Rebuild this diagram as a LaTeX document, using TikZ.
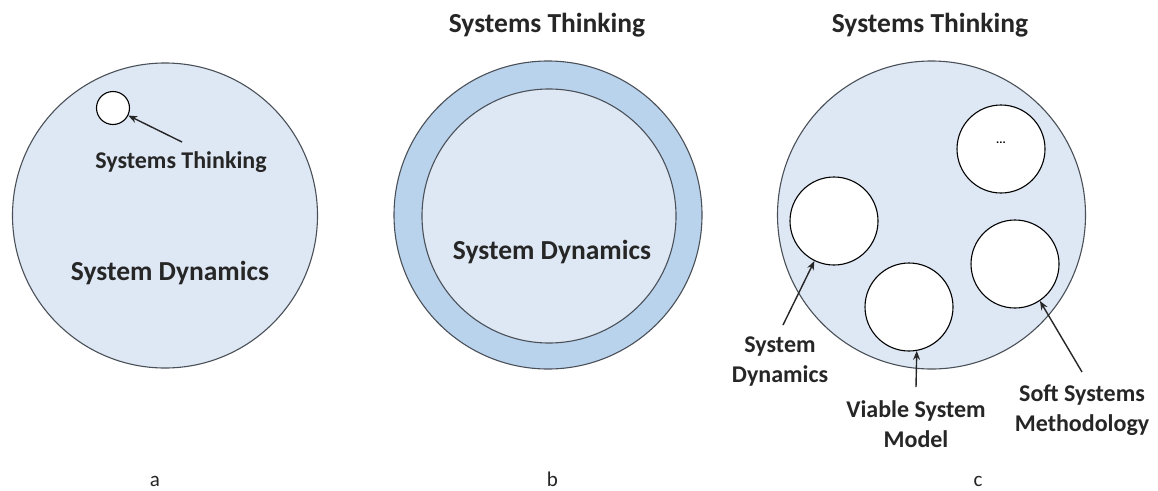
\documentclass[tikz,border=0pt]{standalone}
\usepackage{fontspec}
\setmainfont{Carlito}
\usetikzlibrary{arrows.meta}
\definecolor{fillA}{HTML}{DEE8F4}
\definecolor{ringB}{HTML}{BAD3ED}
\definecolor{edgeC}{HTML}{4A5058}
\begin{document}
\begin{tikzpicture}[x=1pt,y=-1pt,
  bigcirc/.style={circle, draw=edgeC, line width=1.1pt, fill=fillA, inner sep=0pt, minimum size=#1},
  subcirc/.style={circle, draw=black, line width=1.1pt, fill=white, inner sep=0pt, minimum size=#1},
  bigtext/.style={font=\fontsize{27.5}{32}\selectfont\bfseries, inner sep=0pt, text=black!85},
  smalltext/.style={font=\fontsize{24}{30}\selectfont\bfseries, inner sep=0pt, align=center, text=black!85},
  captext/.style={font=\fontsize{21}{24}\selectfont, inner sep=0pt, anchor=base, text=black!85},
  pointer/.style={-{Stealth[length=9pt,width=7pt]}, line width=1.4pt, black!85}]
\useasboundingbox (0,0) rectangle (1158,490);
\fill[white] (0,0) rectangle (1158,490);

% ---- a ----
\node[bigcirc=305pt] (outerA) at (165,215.5) {};
\node[subcirc=33pt] (smallA) at (113,108) {};
\node[smalltext] (stA) at (181,162) {Systems Thinking};
\node[bigtext] (sdA) at (170,273) {System Dynamics};
\coordinate (tailA) at (182,142);
\draw[pointer] (tailA) -- (smallA);
\node[captext] (capA) at (155,486) {a};

% ---- b ----
\node[circle, draw=edgeC, line width=1.1pt, fill=ringB, inner sep=0pt, minimum size=308pt] (outerB) at (548,215) {};
\node[bigcirc=254pt] (innerB) at (549,216) {};
\node[bigtext] (titleB) at (547,25) {Systems Thinking};
\node[bigtext] (sdB) at (552,252) {System Dynamics};
\node[captext] (capB) at (552.5,486) {b};

% ---- c ----
\node[bigcirc=308pt] (outerC) at (931.5,215) {};
\node[bigtext] (titleC) at (930,25) {Systems Thinking};
\node[subcirc=88pt] (dotsC) at (1001,149) {};
\node[font=\fontsize{12}{14}\selectfont\bfseries, inner sep=0pt] (dotsT) at (1001,143) {...};
\node[subcirc=88pt] (sdC) at (834,221) {};
\node[subcirc=88pt] (ssmC) at (1015,264) {};
\node[subcirc=88pt] (vsmC) at (909,307) {};
\node[smalltext] (sdL) at (780,362) {System\\Dynamics};
\node[smalltext] (vsmL) at (916,424) {Viable System\\Model};
\node[smalltext] (ssmL) at (1082,410) {Soft Systems\\Methodology};
\coordinate (tailSD) at (783,325);
\coordinate (tailVSM) at (916,387);
\coordinate (tailSSM) at (1082,372);
\draw[pointer] (tailSD) -- (sdC);
\draw[pointer] (tailVSM) -- (vsmC.-80);
\draw[pointer] (tailSSM) -- (ssmC.-56);
\node[captext] (capC) at (978,486) {c};
\end{tikzpicture}
\end{document}
